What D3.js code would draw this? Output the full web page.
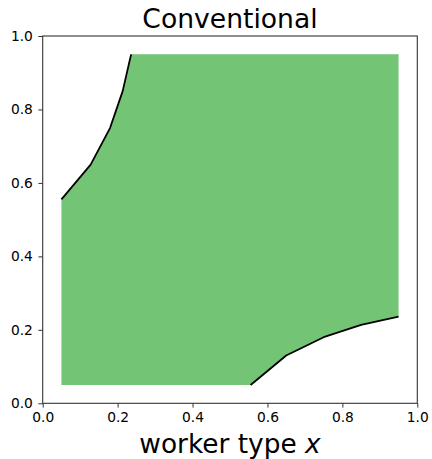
<!DOCTYPE html>
<html>
<head>
<meta charset="utf-8">
<script src="https://cdn.jsdelivr.net/npm/d3@7"></script>
<style>
  html, body { margin: 0; padding: 0; background: #fff; }
  svg { display: block; }
  text { font-family: "DejaVu Sans", sans-serif; fill: #000; }
</style>
</head>
<body>
<svg id="chart" width="432" height="459"></svg>
<script>
// Region bounds
const boxMin = 0.05;
const boxMax = 0.95;

// Upper-left boundary (x, y), from the left edge up to the top edge
const upperX = [0.05, 0.128, 0.18, 0.2135, 0.236];
const upperY = [0.555, 0.65, 0.75, 0.85, 0.95];

// Lower-right boundary (x, y), from the bottom edge up to the right edge
const lowerX = [0.555, 0.65, 0.75, 0.85, 0.95];
const lowerY = [0.05, 0.13, 0.18, 0.2135, 0.236];

const tickValues = [0.0, 0.2, 0.4, 0.6, 0.8, 1.0];

const margin = { left: 42.7, right: 432 - 417.3, top: 36, bottom: 459 - 403.3 };
const W = 432, H = 459;

const svg = d3.select("#chart");
const x = d3.scaleLinear().domain([0, 1]).range([margin.left, W - margin.right]);
const y = d3.scaleLinear().domain([0, 1]).range([H - margin.bottom, margin.top]);

const upper = upperX.map((v, i) => [v, upperY[i]]);
const lower = lowerX.map((v, i) => [v, lowerY[i]]);

// Feasible region polygon
const poly = [
  [boxMin, boxMin],
  ...lower,
  [boxMax, boxMax],
  ...upper.slice().reverse(),
];

const line = d3.line().x(d => x(d[0])).y(d => y(d[1]));

svg.append("path")
  .attr("d", line(poly) + "Z")
  .attr("fill", "#74c476")
  .attr("stroke", "none");

[upper, lower].forEach(seg => {
  svg.append("path")
    .attr("d", line(seg))
    .attr("fill", "none")
    .attr("stroke", "#000")
    .attr("stroke-width", 1.8)
    .attr("stroke-linejoin", "round");
});

// Axes
const fmt = d3.format(".1f");
const xAxis = svg.append("g")
  .attr("transform", `translate(0,${y(0)})`)
  .call(d3.axisBottom(x).tickValues(tickValues).tickFormat(fmt).tickSize(4.3).tickPadding(5));
const yAxis = svg.append("g")
  .attr("transform", `translate(${x(0)},0)`)
  .call(d3.axisLeft(y).tickValues(tickValues).tickFormat(fmt).tickSize(4.3).tickPadding(5.5));

[xAxis, yAxis].forEach(g => {
  g.select(".domain").remove();
  g.selectAll(".tick line").attr("stroke", "#333").attr("stroke-width", 1);
  g.selectAll(".tick text")
    .attr("font-family", "DejaVu Sans, sans-serif")
    .attr("font-size", 13.8)
    .attr("fill", "#222");
});

// Frame
svg.append("rect")
  .attr("x", x(0)).attr("y", y(1))
  .attr("width", x(1) - x(0)).attr("height", y(0) - y(1))
  .attr("fill", "none")
  .attr("stroke", "#333")
  .attr("stroke-width", 1.1);

// Title
svg.append("text")
  .attr("x", (x(0) + x(1)) / 2)
  .attr("y", 27.7)
  .attr("text-anchor", "middle")
  .attr("font-size", 26.6)
  .text("Conventional");

// X label
const xl = svg.append("text")
  .attr("x", (x(0) + x(1)) / 2)
  .attr("y", 453.3)
  .attr("text-anchor", "middle")
  .attr("font-size", 26.4);
xl.append("tspan").text("worker type ");
xl.append("tspan").attr("font-style", "italic").text("x");
</script>
</body>
</html>
